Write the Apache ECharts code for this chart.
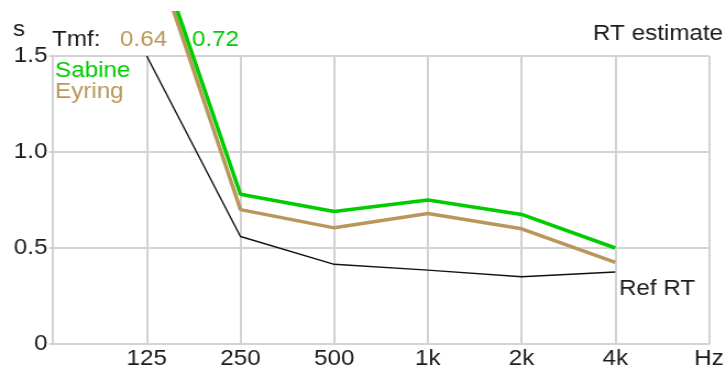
<!DOCTYPE html>
<html>
<head>
<meta charset="utf-8">
<script src="https://cdn.jsdelivr.net/npm/echarts@6/dist/echarts.min.js"></script>
<style>
  html, body { margin: 0; padding: 0; background: #fff; overflow: hidden; }
  /* the chart is laid out slightly narrower and widened horizontally */
  #chart { width: 661px; height: 373px; transform: scaleX(1.1); transform-origin: 0 0; }
</style>
</head>
<body>
<div id="chart"></div>
<script>
// Octave bands and their tick labels (index 0 and 7 are the plot edges)
const bands = ['125', '250', '500', '1k', '2k', '4k'];
const xTickLabels = ['', '125', '250', '500', '1k', '2k', '4k', 'Hz'];
const yTickLabels = ['0', '0.5', '1.0', '1.5'];

// Reverberation times in seconds per band
const refRT  = [1.5, 0.56, 0.415, 0.385, 0.35, 0.375];
const sabine = [2.2, 0.78, 0.69, 0.75, 0.675, 0.5];
const eyring = [2.15, 0.7, 0.605, 0.68, 0.6, 0.425];

// Mid-frequency averages shown in the header
const tmfEyring = '0.64';
const tmfSabine = '0.72';

const GREEN = '#00cc00';
const TAN = '#b9975b';
const INK = '#1c1c1c';
const GRID = '#d3d3d3';
const FONT = 'Liberation Sans, Arial, sans-serif';
const FS = 22;

const toPoints = vals => vals.map((v, i) => [i + 1, v]);

const chart = echarts.init(document.getElementById('chart'), null, { renderer: 'canvas' });

const txt = (left, top, text, color, align) => ({
  type: 'text', x: left, y: top, z: 100,
  style: { text, fill: color, font: FS + 'px ' + FONT, textAlign: align || 'left', textVerticalAlign: 'middle' }
});

chart.setOption({
  animation: false,
  backgroundColor: '#fff',
  grid: { left: 48.2, right: 14.6, top: 56, bottom: 29, containLabel: false },
  xAxis: {
    type: 'value', min: 0, max: 7, interval: 1,
    axisLine: { show: true, lineStyle: { color: GRID, width: 2 } },
    axisTick: { show: false },
    splitLine: { show: true, lineStyle: { color: GRID, width: 2 } },
    axisLabel: {
      margin: 4, color: INK, fontSize: FS, fontFamily: FONT,
      showMinLabel: true, showMaxLabel: true,
      formatter: v => xTickLabels[Math.round(v)] || ''
    }
  },
  yAxis: {
    type: 'value', min: 0, max: 1.5, interval: 0.5,
    axisLine: { show: true, lineStyle: { color: GRID, width: 2 } },
    axisTick: { show: true, length: 3.5, lineStyle: { color: GRID, width: 2 } },
    splitLine: { show: true, lineStyle: { color: GRID, width: 2 } },
    axisLabel: {
      margin: 5, color: INK, fontSize: FS, fontFamily: FONT,
      formatter: v => yTickLabels[Math.round(v / 0.5)]
    }
  },
  series: [
    { name: 'Ref RT', type: 'line', data: toPoints(refRT), symbol: 'none', clip: false,
      lineStyle: { color: '#111', width: 1.4 }, z: 3 },
    { name: 'Eyring', type: 'line', data: toPoints(eyring), symbol: 'none', clip: false,
      lineStyle: { color: TAN, width: 3.5 }, z: 4 },
    { name: 'Sabine', type: 'line', data: toPoints(sabine), symbol: 'none', clip: false,
      lineStyle: { color: GREEN, width: 3.5 }, z: 5 }
  ],
  graphic: [
    // white band along the top edge trims the steep low-band segments
    { type: 'rect', shape: { x: 0, y: 0, width: 661, height: 11 }, style: { fill: '#fff' }, z: 50 },
    txt(17.3, 30, 's', INK, 'center'),
    txt(47.3, 40, 'Tmf:', INK),
    txt(109.1, 40, tmfEyring, TAN),
    txt(174.5, 40, tmfSabine, GREEN),
    txt(50, 71, 'Sabine', GREEN),
    txt(50, 92, 'Eyring', TAN),
    txt(657.3, 34, 'RT estimate', INK, 'right'),
    txt(562.7, 288.5, 'Ref RT', INK)
  ]
});
</script>
</body>
</html>
